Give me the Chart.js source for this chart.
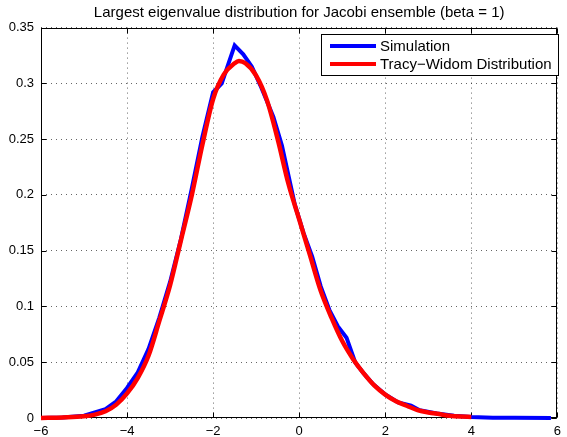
<!DOCTYPE html>
<html><head><meta charset="utf-8">
<script src="https://cdn.jsdelivr.net/npm/chart.js@4"></script>
<style>html,body{margin:0;padding:0;background:#fff;} #wrap{width:567px;height:437px;}</style>
</head><body><div id="wrap"><canvas id="c" width="567" height="437"></canvas></div>
<script>
const titleText = "Largest eigenvalue distribution for Jacobi ensemble (beta = 1)";
const seriesNames = ["Simulation", "Tracy\u2212Widom Distribution"];
const seriesColors = ["#0000ff", "#ff0000"];

const simX = [-6, -5.5, -5, -4.5, -4.25, -4, -3.75, -3.5, -3.25, -3.0, -2.75, -2.5, -2.25, -2.0, -1.8, -1.5, -1.3, -1.1, -0.9, -0.6, -0.4, -0.1, 0.1, 0.3, 0.5, 0.7, 0.9, 1.1, 1.3, 1.5, 1.7, 2.0, 2.3, 2.6, 2.8, 3.2, 3.6, 4.0, 4.5, 5.0, 5.85];
const simY = [0, 0.0005, 0.002, 0.008, 0.015, 0.027, 0.041, 0.062, 0.090, 0.122, 0.160, 0.205, 0.252, 0.292, 0.300, 0.334, 0.326, 0.315, 0.298, 0.270, 0.244, 0.191, 0.166, 0.145, 0.118, 0.097, 0.082, 0.072, 0.050, 0.040, 0.031, 0.021, 0.014, 0.011, 0.007, 0.004, 0.002, 0.0008, 0.0003, 0.0002, 0];

const twX = [-6, -5.5, -5, -4.75, -4.5, -4.25, -4, -3.75, -3.5, -3.25, -3.0, -2.75, -2.5, -2.25, -2.0, -1.75, -1.5, -1.4, -1.25, -1.0, -0.75, -0.5, -0.25, 0, 0.25, 0.5, 0.75, 1.0, 1.25, 1.5, 1.75, 2.0, 2.25, 2.5, 2.75, 3.0, 3.25, 3.5, 3.75, 4.0];
const twY = [0, 0.0005, 0.0015, 0.003, 0.006, 0.012, 0.022, 0.036, 0.056, 0.087, 0.119, 0.159, 0.199, 0.245, 0.286, 0.308, 0.318, 0.320, 0.318, 0.307, 0.285, 0.250, 0.210, 0.178, 0.146, 0.114, 0.090, 0.069, 0.053, 0.040, 0.029, 0.021, 0.015, 0.011, 0.007, 0.005, 0.0035, 0.002, 0.0013, 0.001];

const xTickValues = [-6, -4, -2, 0, 2, 4, 6];
const xTickLabels = ["\u22126", "\u22124", "\u22122", "0", "2", "4", "6"];
const yTickValues = [0, 0.05, 0.1, 0.15, 0.2, 0.25, 0.3, 0.35];
const yTickLabels = ["0", "0.05", "0.1", "0.15", "0.2", "0.25", "0.3", "0.35"];

const FONT = "'Liberation Sans', Arial, Helvetica, sans-serif";

function toPoints(xs, ys) { return xs.map((x, i) => ({x: x, y: ys[i]})); }

const boxPlugin = {
  id: 'boxTicks',
  beforeDatasetsDraw(chart) {
    const ctx = chart.ctx, a = chart.chartArea;
    const xs = chart.scales.x, ys = chart.scales.y;
    ctx.save();
    ctx.strokeStyle = '#000';
    ctx.lineWidth = 1;
    const L = Math.round(a.left) + 0.5, R = Math.round(a.right) - 0.5;
    const T = Math.round(a.top) + 0.5, B = Math.round(a.bottom) - 0.5;
    ctx.strokeRect(L, T, R - L, B - T);
    const tl = 5;
    ctx.beginPath();
    xTickValues.forEach(v => {
      const px = Math.round(xs.getPixelForValue(v)) + 0.5;
      ctx.moveTo(px, B); ctx.lineTo(px, B - tl);
      ctx.moveTo(px, T); ctx.lineTo(px, T + tl);
    });
    yTickValues.forEach(v => {
      const py = Math.round(ys.getPixelForValue(v)) + 0.5;
      ctx.moveTo(L, py); ctx.lineTo(L + tl, py);
      ctx.moveTo(R, py); ctx.lineTo(R - tl, py);
    });
    ctx.stroke();
    ctx.restore();
  },
  afterDraw(chart) {
    const ctx = chart.ctx;
    ctx.save();
    const bx = 321.5, by = 34.5, bw = 237, bh = 41;
    ctx.fillStyle = '#fff';
    ctx.fillRect(bx, by, bw, bh);
    ctx.strokeStyle = '#000';
    ctx.lineWidth = 1;
    ctx.strokeRect(bx, by, bw, bh);
    const rows = [46, 64];
    ctx.font = "15px " + FONT;
    ctx.textBaseline = 'middle';
    ctx.textAlign = 'left';
    seriesNames.forEach((name, i) => {
      ctx.strokeStyle = seriesColors[i];
      ctx.lineWidth = 4;
      ctx.beginPath();
      ctx.moveTo(330, rows[i]); ctx.lineTo(376, rows[i]);
      ctx.stroke();
      ctx.fillStyle = '#000';
      ctx.fillText(name, 380, rows[i] + 0.5);
    });
    ctx.restore();
  }
};

new Chart(document.getElementById('c'), {
  type: 'scatter',
  data: {
    datasets: [
      { label: seriesNames[0], data: toPoints(simX, simY), showLine: true, borderColor: seriesColors[0], backgroundColor: seriesColors[0], borderWidth: 4, pointRadius: 0, tension: 0, order: 2, clip: 10 },
      { label: seriesNames[1], data: toPoints(twX, twY), showLine: true, borderColor: seriesColors[1], backgroundColor: seriesColors[1], borderWidth: 4.5, pointRadius: 0, tension: 0.3, cubicInterpolationMode: 'monotone', order: 1, clip: 10 }
    ]
  },
  options: {
    responsive: false,
    animation: false,
    devicePixelRatio: 1,
    layout: { padding: { left: 0, right: 6.5, top: 0, bottom: 0 } },
    plugins: {
      legend: { display: false },
      tooltip: { enabled: false },
      title: { display: true, fullSize: false, text: titleText, color: '#000', font: { family: FONT, size: 15, weight: 'normal' }, padding: { top: 4, bottom: 5.6 } }
    },
    scales: {
      x: {
        type: 'linear', min: -6, max: 6,
        afterBuildTicks: s => { s.ticks = xTickValues.map(v => ({ value: v })); },
        afterFit: s => { s.height = 19; },
        ticks: { callback: (v) => { const i = xTickValues.indexOf(v); return i >= 0 ? xTickLabels[i] : ''; }, color: '#000', font: { family: FONT, size: 13 }, padding: 6, maxRotation: 0, autoSkip: false },
        grid: { color: 'rgba(0,0,0,0.6)', lineWidth: 1, drawTicks: false },
        border: { display: false, dash: [1, 4] }
      },
      y: {
        type: 'linear', min: 0, max: 0.35,
        afterBuildTicks: s => { s.ticks = yTickValues.map(v => ({ value: v })); },
        afterFit: s => { s.width = 41; },
        ticks: { callback: (v) => { const i = yTickValues.findIndex(t => Math.abs(t - v) < 1e-9); return i >= 0 ? yTickLabels[i] : ''; }, color: '#000', font: { family: FONT, size: 13 }, padding: 7, autoSkip: false },
        grid: { color: 'rgba(0,0,0,0.6)', lineWidth: 1, drawTicks: false },
        border: { display: false, dash: [1, 4] }
      }
    }
  },
  plugins: [boxPlugin]
});
</script>
</body></html>
